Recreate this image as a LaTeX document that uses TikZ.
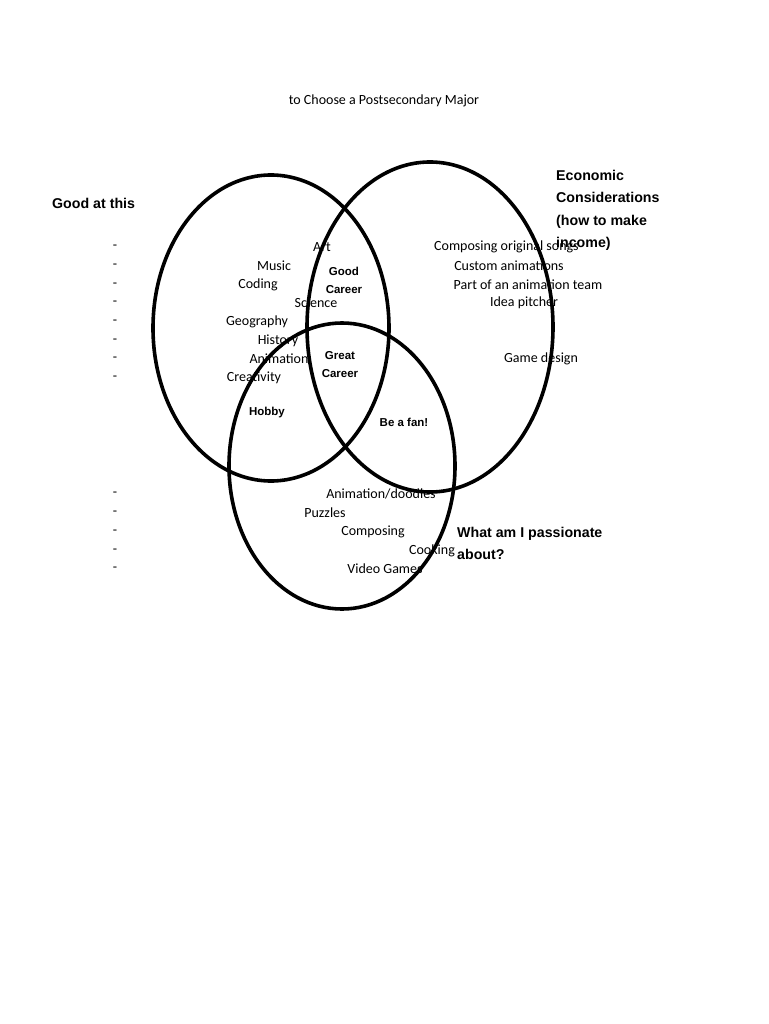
\documentclass[tikz,border=0pt]{standalone}
\usepackage{fontspec}
\setmainfont{Carlito}
\newfontfamily\arialb{Liberation Sans}
\begin{document}
\begin{tikzpicture}[x=1pt,y=-1pt,
  ring/.style={line width=3.6pt,black},
  itm/.style={font=\fontsize{14}{16}\selectfont,inner sep=0pt},
  big/.style={font=\arialb\bfseries\fontsize{14.2}{22.5}\selectfont,inner sep=0pt,align=left},
  mid/.style={font=\arialb\bfseries\fontsize{11.5}{18}\selectfont,inner sep=0pt,align=center}]
\useasboundingbox[fill=white] (0,0) rectangle (768,1024);
\draw[ring] (271,328) ellipse[x radius=118,y radius=153];
\draw[ring] (430,327) ellipse[x radius=123,y radius=165];
\draw[ring] (342,466) ellipse[x radius=113,y radius=143];
\node[itm] (title) at (384,101) {to Choose a Postsecondary Major};
\node[big,anchor=west] (good) at (52,203) {Good at this};
\node[big,anchor=north west] (econ) at (556,170) {Economic\\Considerations\\(how to make\\income)};
\node[big,anchor=north west] (pass) at (457,527) {What am I passionate\\about?};
\foreach \y in {247,266,285,303,322,341,359,378,494,513,532,551,569}
  \node[itm] at (115,\y) {-};
\node[itm] (a1) at (322,247) {Art};
\node[itm] (a2) at (274,266) {Music};
\node[itm] (a3) at (258,285) {Coding};
\node[itm] (a4) at (316,303) {Science};
\node[itm] (a5) at (257,322) {Geography};
\node[itm] (a6) at (278,341) {History};
\node[itm] (a7) at (279,359) {Animation};
\node[itm] (a8) at (254,378) {Creativity};
\node[mid] (gc) at (344,280) {Good\\Career};
\node[mid] (grc) at (340,365) {Great\\Career};
\node[mid] (hob) at (267,413) {Hobby};
\node[mid] (fan) at (404,422) {Be a fan!};
\node[itm,anchor=west] (b1) at (434,247) {Composing original songs};
\node[itm] (b2) at (509,266) {Custom animations};
\node[itm] (b3) at (528,285) {Part of an animation team};
\node[itm] (b4) at (524,303) {Idea pitcher};
\node[itm] (b5) at (541,359) {Game design};
\node[itm] (c1) at (381,494) {Animation/doodles};
\node[itm] (c2) at (325,513) {Puzzles};
\node[itm] (c3) at (373,532) {Composing};
\node[itm] (c4) at (432,551) {Cooking};
\node[itm] (c5) at (385,569) {Video Games};
\end{tikzpicture}
\end{document}
